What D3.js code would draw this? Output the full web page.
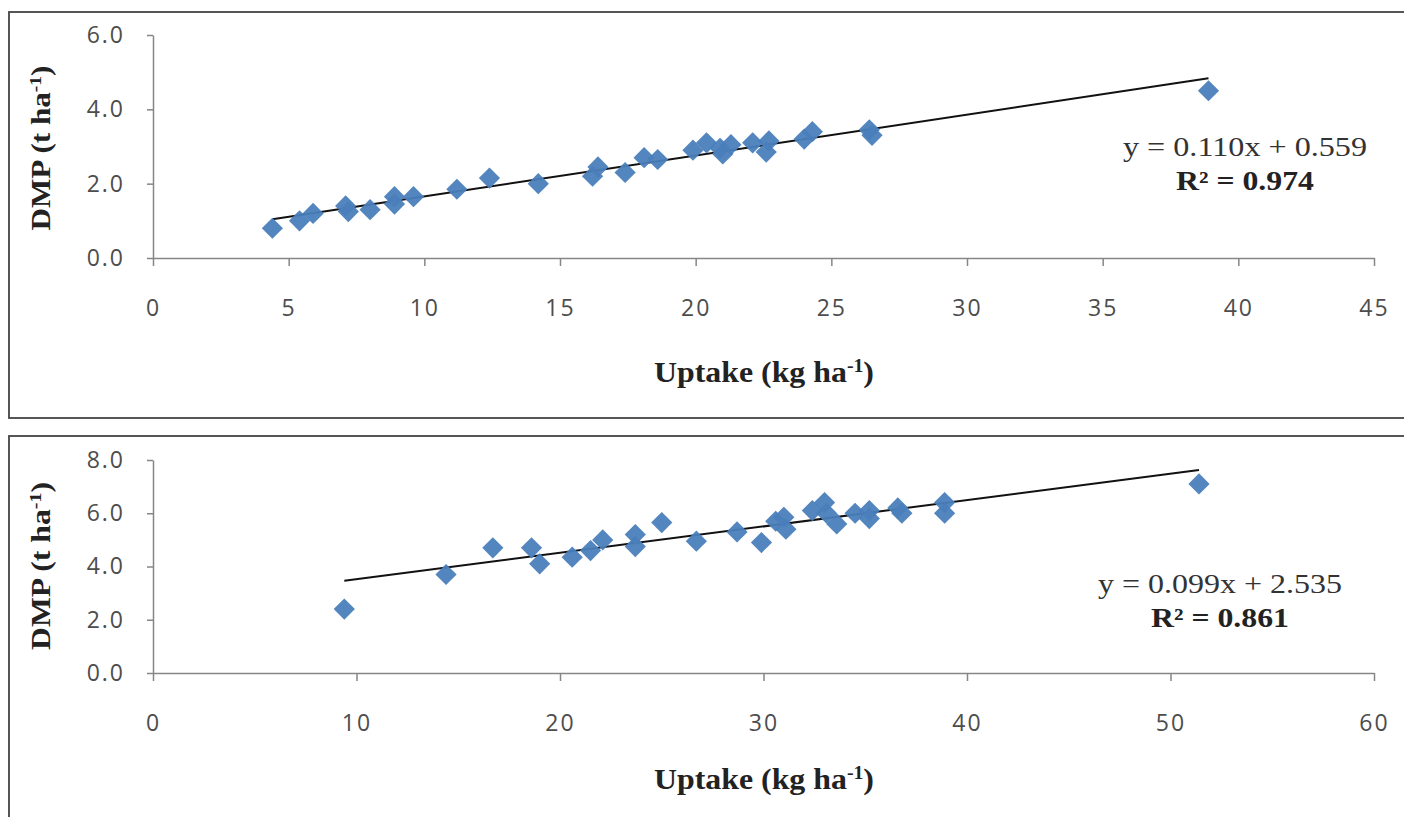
<!DOCTYPE html>
<html>
<head>
<meta charset="utf-8">
<script src="https://cdn.jsdelivr.net/npm/d3@7"></script>
<style>
  body { margin: 0; background: #fff; }
  svg { display: block; }
</style>
</head>
<body>
<div id="chart"></div>
<script>
// top panel data (uptake kg/ha vs DMP t/ha)
var topUptake = [4.4, 5.4, 5.9, 7.1, 7.2, 8.0, 8.9, 8.9, 9.6, 11.2, 12.4, 14.2, 16.2, 16.4,
  17.4, 18.1, 18.6, 19.9, 20.4, 20.9, 21.0, 21.3, 22.1, 22.7, 22.6, 24.0, 24.3, 26.4, 26.5, 38.9];
var topDmp = [0.8, 1.0, 1.2, 1.4, 1.25, 1.3, 1.65, 1.45, 1.65, 1.85, 2.15, 2.0, 2.2, 2.45,
  2.3, 2.7, 2.65, 2.9, 3.1, 2.95, 2.8, 3.05, 3.1, 3.15, 2.85, 3.2, 3.4, 3.45, 3.3, 4.5];
var topXTicks = [0, 5, 10, 15, 20, 25, 30, 35, 40, 45];
var topYTicks = [0, 2, 4, 6];
var topSlope = 0.110, topIntercept = 0.559, topR2 = '0.974';

// bottom panel data
var botUptake = [9.4, 14.4, 16.7, 18.6, 19.0, 20.6, 21.5, 22.1, 23.7, 23.7, 25.0, 26.7, 28.7,
  29.9, 30.6, 31.0, 31.1, 32.4, 33.0, 33.1, 33.6, 34.5, 35.2, 35.2, 36.6, 36.8, 38.9, 38.9, 51.4];
var botDmp = [2.4, 3.7, 4.7, 4.7, 4.1, 4.35, 4.6, 5.0, 5.2, 4.75, 5.65, 4.95, 5.3,
  4.9, 5.7, 5.85, 5.4, 6.1, 6.4, 6.0, 5.6, 6.0, 6.1, 5.8, 6.2, 6.0, 6.4, 6.0, 7.1];
var botXTicks = [0, 10, 20, 30, 40, 50, 60];
var botYTicks = [0, 2, 4, 6, 8];
var botSlope = 0.099, botIntercept = 2.535, botR2 = '0.861';

var width = 1404, height = 817;

var svg = d3.select('#chart').append('svg')
  .attr('width', width)
  .attr('height', height);

// frames around the two panels (they run off the right / bottom edge)
svg.append('rect').attr('x', 9).attr('y', 12).attr('width', 1420).attr('height', 406)
  .attr('fill', 'none').attr('stroke', '#444').attr('stroke-width', 1.8);
svg.append('rect').attr('x', 9).attr('y', 436).attr('width', 1420).attr('height', 420)
  .attr('fill', 'none').attr('stroke', '#444').attr('stroke-width', 1.8);

function drawPanel(p) {
  var g = svg.append('g');
  var x = d3.scaleLinear().domain([0, p.xTicks[p.xTicks.length - 1]]).range([153, 1374]);
  var y = d3.scaleLinear().domain([0, p.yTicks[p.yTicks.length - 1]]).range([p.yBottom, p.yTop]);

  var xAxis = d3.axisBottom(x).tickValues(p.xTicks).tickSize(8).tickSizeOuter(0).tickPadding(34);
  var yAxis = d3.axisLeft(y).tickValues(p.yTicks).tickSize(6).tickSizeOuter(0).tickPadding(22)
    .tickFormat(d3.format('.1f'));

  var gx = g.append('g').attr('transform', 'translate(0,' + p.yBottom + ')').call(xAxis);
  var gy = g.append('g').attr('transform', 'translate(153,0)').call(yAxis);

  [gx, gy].forEach(function (ax) {
    ax.attr('font-family', null).attr('font-size', null);
    ax.select('.domain').attr('stroke', '#868686').attr('stroke-width', 1.5);
    ax.selectAll('.tick line').attr('stroke', '#868686').attr('stroke-width', 1.5);
    ax.selectAll('.tick text')
      .attr('fill', '#4d4d4d')
      .style('font-family', '"Open Sans", sans-serif')
      .style('font-size', '23px')
      .style('letter-spacing', '2px');
  });

  // trendline over the data range
  var xMin = d3.min(p.xs), xMax = d3.max(p.xs);
  g.append('line')
    .attr('x1', x(xMin)).attr('y1', y(p.slope * xMin + p.intercept))
    .attr('x2', x(xMax)).attr('y2', y(p.slope * xMax + p.intercept))
    .attr('stroke', '#111').attr('stroke-width', 2);

  var diamond = d3.symbol().type(d3.symbolSquare).size(225);
  g.selectAll('path.pt')
    .data(p.xs)
    .enter()
    .append('path')
    .attr('class', 'pt')
    .attr('d', diamond)
    .attr('transform', function (d, i) {
      return 'translate(' + x(d) + ',' + y(p.ys[i]) + ') rotate(45)';
    })
    .attr('fill', '#4a7ebb')
    .attr('fill-opacity', 0.95);

  // axis titles
  var xt = g.append('text')
    .attr('x', 764).attr('y', p.yBottom + p.xTitleGap)
    .attr('text-anchor', 'middle')
    .attr('font-family', '"Liberation Serif", serif')
    .attr('font-weight', 'bold').attr('font-size', 29).attr('fill', '#222')
    .attr('textLength', 220).attr('lengthAdjust', 'spacingAndGlyphs');
  xt.append('tspan').text('Uptake (kg ha');
  xt.append('tspan').attr('baseline-shift', 'super').attr('font-size', 18).text('-1');
  xt.append('tspan').text(')');

  var yt = g.append('text')
    .attr('transform', 'translate(50,' + p.yTitleMid + ') rotate(-90)')
    .attr('text-anchor', 'middle')
    .attr('font-family', '"Liberation Serif", serif')
    .attr('font-weight', 'bold').attr('font-size', 27).attr('fill', '#222')
    .attr('textLength', p.yTitleLen).attr('lengthAdjust', 'spacingAndGlyphs');
  yt.append('tspan').text('DMP (t ha');
  yt.append('tspan').attr('baseline-shift', 'super').attr('font-size', 17).text('-1');
  yt.append('tspan').text(')');

  // regression equation
  g.append('text')
    .attr('x', p.eqX).attr('y', p.eqY)
    .attr('text-anchor', 'middle')
    .attr('font-family', '"Liberation Serif", serif')
    .attr('font-size', 27).attr('fill', '#333')
    .attr('textLength', 244).attr('lengthAdjust', 'spacingAndGlyphs')
    .text('y = ' + d3.format('.3f')(p.slope) + 'x + ' + d3.format('.3f')(p.intercept));
  g.append('text')
    .attr('x', p.eqX).attr('y', p.eqY + 34)
    .attr('text-anchor', 'middle')
    .attr('font-family', '"Liberation Serif", serif')
    .attr('font-weight', 'bold')
    .attr('font-size', 27).attr('fill', '#222')
    .attr('textLength', 138).attr('lengthAdjust', 'spacingAndGlyphs')
    .text('R\u00b2 = ' + p.r2);
}

drawPanel({
  xs: topUptake, ys: topDmp, xTicks: topXTicks, yTicks: topYTicks,
  slope: topSlope, intercept: topIntercept, r2: topR2,
  yBottom: 258, yTop: 35, xTitleGap: 124, yTitleMid: 148, yTitleLen: 165,
  eqX: 1245, eqY: 156
});

drawPanel({
  xs: botUptake, ys: botDmp, xTicks: botXTicks, yTicks: botYTicks,
  slope: botSlope, intercept: botIntercept, r2: botR2,
  yBottom: 673, yTop: 460, xTitleGap: 116, yTitleMid: 566, yTitleLen: 168,
  eqX: 1220, eqY: 593
});
</script>
</body>
</html>
